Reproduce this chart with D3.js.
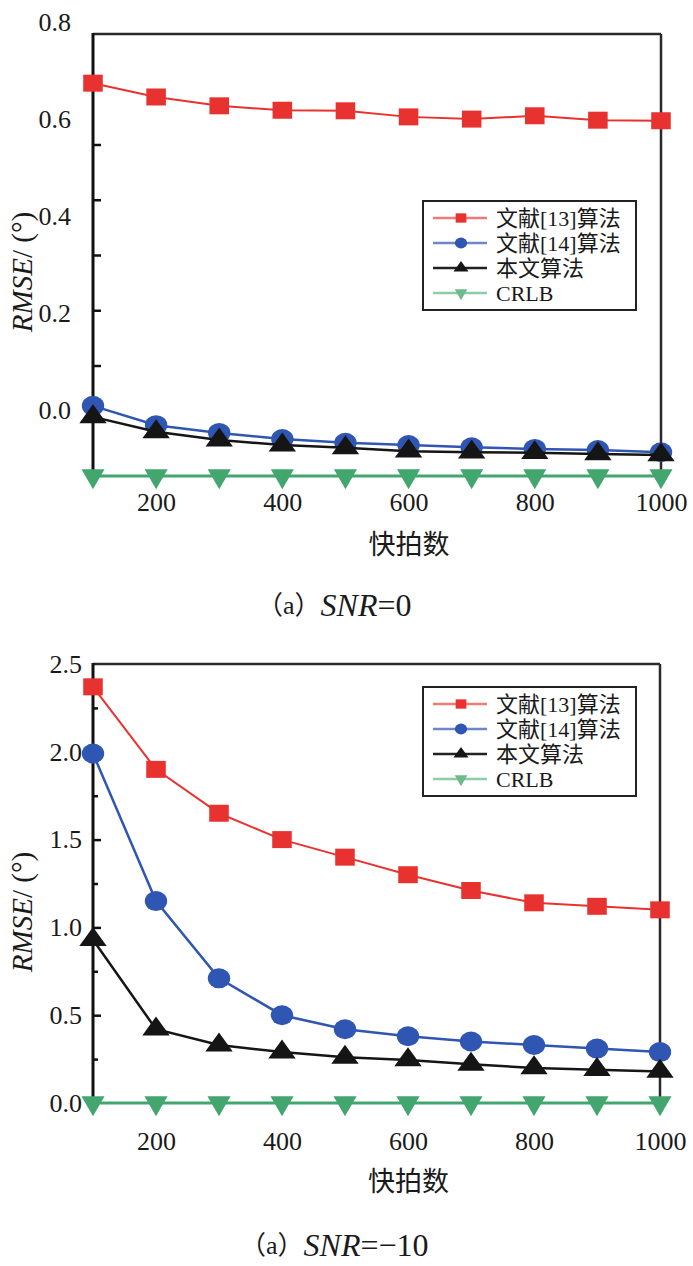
<!DOCTYPE html>
<html>
<head>
<meta charset="utf-8">
<script src="https://cdn.jsdelivr.net/npm/d3@7"></script>
<style>
  body { margin: 0; background: #fff; }
  text { font-family: "Liberation Serif", "Noto Sans CJK SC", serif; fill: #1a1a1a; }
</style>
</head>
<body>
<div id="chart"></div>
<script>
// x values (快拍数) shared by both panels
const snapshots = [100, 200, 300, 400, 500, 600, 700, 800, 900, 1000];
const xTickValues = [200, 400, 600, 800, 1000];
const seriesNames = ['文献[13]算法', '文献[14]算法', '本文算法', 'CRLB'];

// panel (a) SNR=0
const snr0Ref13 = [0.711, 0.686, 0.670, 0.662, 0.661, 0.650, 0.646, 0.652, 0.644, 0.643];
const snr0Ref14 = [0.127, 0.092, 0.078, 0.067, 0.060, 0.056, 0.052, 0.049, 0.047, 0.043];
const snr0Ours  = [0.107, 0.080, 0.065, 0.056, 0.051, 0.045, 0.043, 0.042, 0.040, 0.038];
const snr0Crlb  = [0, 0, 0, 0, 0, 0, 0, 0, 0, 0];
const snr0TickLabels = [0, 0.2, 0.4, 0.6, 0.8];
const snr0TickMarks  = [0.1, 0.2, 0.3, 0.4, 0.5, 0.6, 0.7];

// panel (a) SNR=-10
const snrM10Ref13 = [2.37, 1.90, 1.65, 1.50, 1.40, 1.30, 1.21, 1.14, 1.12, 1.10];
const snrM10Ref14 = [1.99, 1.15, 0.71, 0.50, 0.42, 0.38, 0.35, 0.33, 0.31, 0.29];
const snrM10Ours  = [0.93, 0.42, 0.33, 0.29, 0.26, 0.245, 0.22, 0.20, 0.19, 0.18];
const snrM10Crlb  = [0, 0, 0, 0, 0, 0, 0, 0, 0, 0];
const snrM10TickLabels = [0, 0.5, 1.0, 1.5, 2.0, 2.5];
const snrM10MajorMarks = [0.5, 1.0, 1.5, 2.0];
const snrM10MinorMarks = [0.25, 0.75, 1.25, 1.75, 2.25];

const W = 693, H = 1266;

const seriesStyle = [
  { color: '#e8322f', legendLine: '#ef7b78', symbol: d3.symbolSquare,   size: 289, sx: 1.15, sy: 1,  lw: 2 },
  { color: '#3056b3', legendLine: '#6f86c8', symbol: d3.symbolCircle,   size: 314, sx: 1.12, sy: 1,  lw: 2.5 },
  { color: '#151515', legendLine: '#222222', symbol: d3.symbolTriangle, size: 208, sx: 1.25, sy: 1,  lw: 2.5 },
  { color: '#43a66f', legendLine: '#8ccca6', symbol: d3.symbolTriangle, size: 231, sx: 1.0,  sy: -1, lw: 3 }
];

const svg = d3.select('#chart')
  .append('svg')
  .attr('width', W)
  .attr('height', H);

svg.append('rect').attr('width', W).attr('height', H).attr('fill', '#fff');

function drawPanel(p) {
  const g = svg.append('g');

  const x = d3.scaleLinear().domain([100, 1000]).range([p.left, p.right]);
  const y = d3.scaleLinear().domain(p.yDomain).range([p.bottom, p.top]);
  // the printed tick labels of panel one sit on their own, tighter scale
  const yLab = p.labelRange
    ? d3.scaleLinear().domain(p.yDomain).range(p.labelRange)
    : y;

  // inner tick marks
  p.marks.forEach(m => {
    const ax = g.append('g')
      .attr('transform', 'translate(' + p.left + ',0)')
      .call(d3.axisRight(y).tickValues(m.values).tickSize(m.len).tickFormat(''));
    ax.select('.domain').remove();
    ax.selectAll('line').attr('stroke', '#111').attr('stroke-width', 2.5);
  });

  // y labels
  const yAx = g.append('g')
    .attr('transform', 'translate(' + p.left + ',0)')
    .call(d3.axisLeft(yLab).tickValues(p.tickLabels).tickSize(0)
      .tickPadding(p.labelPad).tickFormat(d3.format('.1f')));
  yAx.select('.domain').remove();
  yAx.attr('font-size', null).attr('font-family', null);
  yAx.selectAll('text').style('font-size', '26px');

  // x labels
  const xAx = g.append('g')
    .attr('transform', 'translate(0,' + p.bottom + ')')
    .call(d3.axisBottom(x).tickValues(xTickValues).tickSize(0).tickFormat(d3.format('d')));
  xAx.select('.domain').remove();
  xAx.attr('font-size', null).attr('font-family', null);
  xAx.selectAll('text')
    .attr('y', p.xLabelOffset)
    .attr('dy', null)
    .attr('dominant-baseline', 'central')
    .style('font-size', '26px');

  // frame
  g.append('line').attr('x1', p.left).attr('x2', p.right).attr('y1', p.top).attr('y2', p.top)
    .attr('stroke', '#2a2a2a').attr('stroke-width', 2.5);
  g.append('line').attr('x1', p.right).attr('x2', p.right).attr('y1', p.top).attr('y2', p.bottom)
    .attr('stroke', '#2a2a2a').attr('stroke-width', 2.5);
  g.append('line').attr('x1', p.left).attr('x2', p.right).attr('y1', p.bottom).attr('y2', p.bottom)
    .attr('stroke', '#111').attr('stroke-width', 2);
  g.append('line').attr('x1', p.left).attr('x2', p.left).attr('y1', p.top - 1).attr('y2', p.bottom)
    .attr('stroke', '#111').attr('stroke-width', 3);

  // series
  const line = d3.line()
    .x((d, i) => x(snapshots[i]))
    .y(d => y(d));

  p.series.forEach((vals, k) => {
    const st = seriesStyle[k];
    g.append('path')
      .datum(vals)
      .attr('d', line)
      .attr('fill', 'none')
      .attr('stroke', st.color)
      .attr('stroke-width', st.lw);
    g.selectAll('.m' + k)
      .data(vals)
      .enter()
      .append('path')
      .attr('class', 'm' + k)
      .attr('d', d3.symbol(st.symbol, st.size))
      .attr('transform', (d, i) =>
        'translate(' + x(snapshots[i]) + ',' + y(d) + ') scale(' + st.sx + ',' + st.sy + ')')
      .attr('fill', st.color);
  });

  // legend
  const lg = g.append('g').attr('transform', 'translate(' + p.legend[0] + ',' + p.legend[1] + ')');
  lg.append('rect')
    .attr('width', 213).attr('height', 109)
    .attr('fill', '#fff').attr('stroke', '#222').attr('stroke-width', 2);
  seriesNames.forEach((name, k) => {
    const st = seriesStyle[k];
    const ry = 17 + k * 25;
    lg.append('line').attr('x1', 10).attr('x2', 64).attr('y1', ry).attr('y2', ry)
      .attr('stroke', st.legendLine).attr('stroke-width', 2.5);
    lg.append('path')
      .attr('d', d3.symbol(st.symbol, st.size * 0.3))
      .attr('transform', 'translate(38,' + ry + ') scale(' + st.sx + ',' + st.sy + ')')
      .attr('fill', k === 3 ? '#6cbb8d' : st.color);
    lg.append('text')
      .attr('x', 73).attr('y', ry)
      .attr('dominant-baseline', 'central')
      .style('font-size', '22px')
      .text(name);
  });

  // axis titles
  g.append('text')
    .attr('x', (p.left + p.right) / 2 + 32).attr('y', p.xTitleY)
    .attr('text-anchor', 'middle').attr('dominant-baseline', 'central')
    .style('font-size', '27px')
    .text('快拍数');

  const yt = g.append('text')
    .attr('transform', 'translate(22,' + p.yTitleY + ') rotate(-90)')
    .attr('text-anchor', 'middle').attr('dominant-baseline', 'central')
    .style('font-size', '29px');
  yt.append('tspan').style('font-style', 'italic').text('RMSE');
  yt.append('tspan').text('/ (°)');

  // caption
  const cap = g.append('text')
    .attr('x', p.captionX).attr('y', p.captionY)
    .attr('dominant-baseline', 'central');
  cap.append('tspan').style('font-size', '26px').text('（a）');
  cap.append('tspan').style('font-size', '32px').style('font-style', 'italic').text('SNR');
  cap.append('tspan').style('font-size', '32px').text(p.captionTail);
}

drawPanel({
  left: 93, right: 661, top: 34, bottom: 476,
  yDomain: [0, 0.8],
  labelRange: [410, 22],
  tickLabels: snr0TickLabels,
  labelPad: 22,
  marks: [{ values: snr0TickMarks, len: 8 }],
  xLabelOffset: 26,
  xTitleY: 545,
  yTitleY: 272,
  legend: [423, 201],
  series: [snr0Ref13, snr0Ref14, snr0Ours, snr0Crlb],
  captionX: 257, captionY: 605, captionTail: '=0'
});

drawPanel({
  left: 93, right: 660, top: 664, bottom: 1103,
  yDomain: [0, 2.5],
  labelRange: null,
  tickLabels: snrM10TickLabels,
  labelPad: 11,
  marks: [{ values: snrM10MajorMarks, len: 8 }, { values: snrM10MinorMarks, len: 5 }],
  xLabelOffset: 38,
  xTitleY: 1182,
  yTitleY: 912,
  legend: [423, 687],
  series: [snrM10Ref13, snrM10Ref14, snrM10Ours, snrM10Crlb],
  captionX: 240, captionY: 1245, captionTail: '=−10'
});
</script>
</body>
</html>
